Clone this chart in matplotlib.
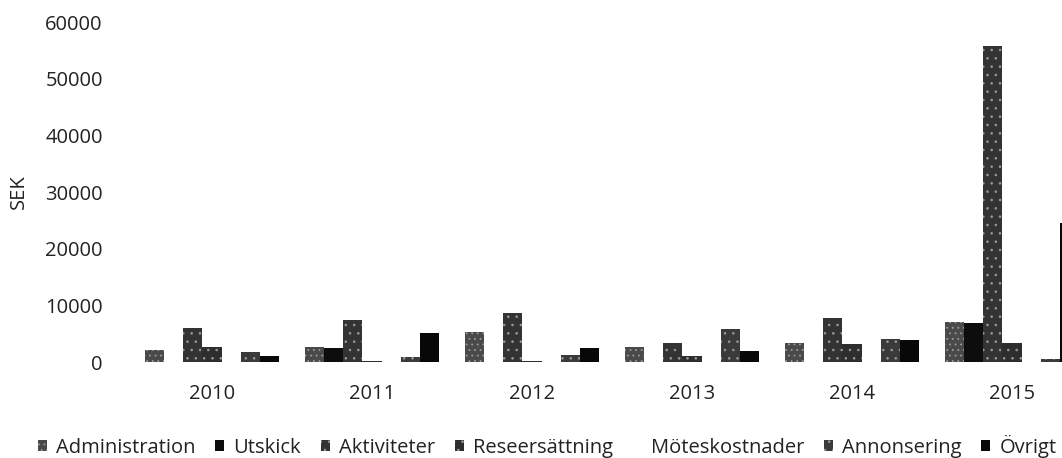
import matplotlib
matplotlib.use("Agg")
import matplotlib.pyplot as plt
import numpy as np

years = ["2010", "2011", "2012", "2013", "2014", "2015"]
series_names = ["Administration", "Utskick", "Aktiviteter", "Reseersättning",
                "Möteskostnader", "Annonsering", "Övrigt"]
administration = [2100, 2600, 5300, 2600, 3400, 7100]
utskick = [0, 2500, 0, 0, 0, 6900]
aktiviteter = [6000, 7400, 8600, 3400, 7800, 55700]
reseersattning = [2600, 200, 200, 1000, 3200, 3400]
moteskostnader = [0, 0, 0, 0, 0, 0]
annonsering = [1800, 900, 1200, 5800, 4100, 500]
ovrigt = [1100, 5100, 2500, 1900, 3900, 24500]
yticks = [0, 10000, 20000, 30000, 40000, 50000, 60000]

series = [administration, utskick, aktiviteter, reseersattning,
          moteskostnader, annonsering, ovrigt]
colors = ["#4a4a4a", "#0d0d0d", "#333333", "#2e2e2e", "#ffffff", "#3a3a3a", "#080808"]
hatches = ["...", None, "..", "..", None, "..", None]

plt.rcParams['font.family'] = ['Open Sans', 'DejaVu Sans']
plt.rcParams['hatch.linewidth'] = 0.6

fig = plt.figure(figsize=(10.62, 4.58), dpi=100)
ax = fig.add_axes([132/1062, (458-362)/458, 960/1062, 340/458])

n = len(series)
w = 0.119
x = np.arange(len(years))
for i, (name, vals, c, h) in enumerate(zip(series_names, series, colors, hatches)):
    offs = (i - (n - 1) / 2) * w
    ax.bar(x + offs, vals, width=w, color=c, label=name, linewidth=0,
           hatch=h, edgecolor="#9a9a9a" if h else c)

ax.set_xlim(-0.5, 5.5)
ax.set_ylim(0, 60000)
ax.set_yticks(yticks)
ax.set_yticklabels([str(v) for v in yticks])
ax.set_xticks(x)
ax.set_xticklabels(years)
ax.tick_params(axis='both', length=0, labelsize=14.5, colors='#222222')
ax.tick_params(axis='y', pad=21)
ax.tick_params(axis='x', pad=16)
for s in ax.spines.values():
    s.set_visible(False)
ax.set_ylabel("SEK", fontsize=14.5, color='#222222', labelpad=12)

leg = fig.legend(loc='center left', bbox_to_anchor=(38/1062, (458-446)/458), ncol=7,
                 frameon=False, fontsize=14.5, handlelength=0.45, handleheight=0.45,
                 handletextpad=0.45, columnspacing=0.98, labelcolor='#222222',
                 borderaxespad=0, borderpad=0)

fig.savefig("out.png", dpi=100)
